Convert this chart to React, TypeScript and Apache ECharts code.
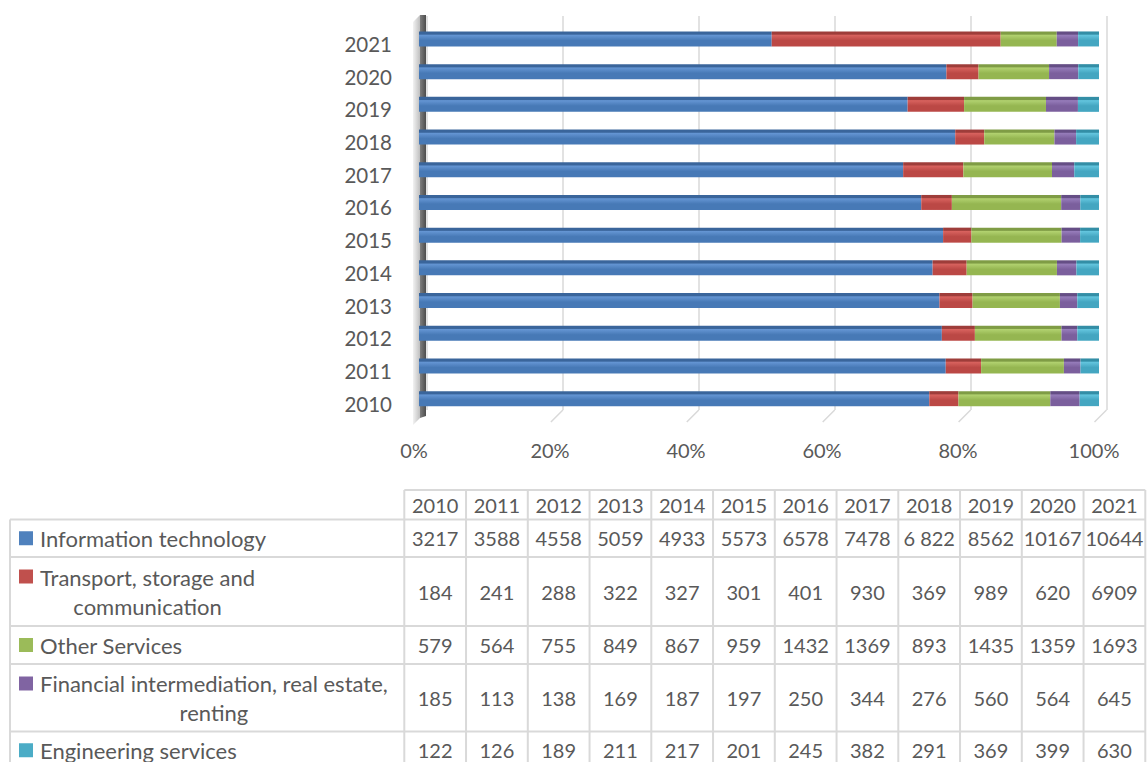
import React, { useEffect, useRef } from "react";
import * as echarts from "echarts";

const years = ["2010", "2011", "2012", "2013", "2014", "2015", "2016", "2017", "2018", "2019", "2020", "2021"];
const infoTech = [3217, 3588, 4558, 5059, 4933, 5573, 6578, 7478, 6822, 8562, 10167, 10644];
const transport = [184, 241, 288, 322, 327, 301, 401, 930, 369, 989, 620, 6909];
const otherServices = [579, 564, 755, 849, 867, 959, 1432, 1369, 893, 1435, 1359, 1693];
const financial = [185, 113, 138, 169, 187, 197, 250, 344, 276, 560, 564, 645];
const engineering = [122, 126, 189, 211, 217, 201, 245, 382, 291, 369, 399, 630];
const seriesNames = [
  "Information technology",
  "Transport, storage and\ncommunication",
  "Other Services",
  "Financial intermediation, real estate,\nrenting",
  "Engineering services",
];
// cell text shown differently from the raw number in the source table
const infoTechDisplay: Record<string, string> = { "2018": "6 822" };
const xTicks = [0, 20, 40, 60, 80, 100];

const FONT = "Lato";
const TEXT = "#595959";
const colors = ["#4F81BD", "#C0504D", "#9BBB59", "#8064A2", "#4BACC6"];
const shades = [
  ["#3A659B", "#6495D3", "#4779B6"],
  ["#9E3D3A", "#D8625E", "#BB4845"],
  ["#7F9C45", "#B1D16F", "#95B651"],
  ["#654E85", "#967CBA", "#7B5F9D"],
  ["#338EA6", "#63C5DE", "#44A6C1"],
];

function measure(text: string, font: string) {
  const ctx = document.createElement("canvas").getContext("2d")!;
  ctx.font = font;
  return ctx.measureText(text).width;
}

export default function App() {
  const ref = useRef<HTMLDivElement>(null);
  useEffect(() => {
    const chart = echarts.init(ref.current!, null, { renderer: "svg" });
    const allSeries = [infoTech, transport, otherServices, financial, engineering];
    const totals = years.map((_, i) => allSeries.reduce((s, arr) => s + arr[i], 0));

    const series = allSeries.map((arr, k) => ({
      name: seriesNames[k].replace("\n", " "),
      type: "bar",
      stack: "total",
      xAxisIndex: 1,
      yAxisIndex: 1,
      barWidth: 15,
      data: arr.map((v, i) => (v / totals[i]) * 100),
      itemStyle: {
        color: new echarts.graphic.LinearGradient(0, 0, 0, 1, [
          { offset: 0, color: shades[k][0] },
          { offset: 0.18, color: shades[k][0] },
          { offset: 0.25, color: shades[k][1] },
          { offset: 0.6, color: shades[k][2] },
          { offset: 1, color: shades[k][2] },
        ]),
      },
    }));

    // ---- table (graphic) ----
    const g: any[] = [];
    const colX0 = 404.3;
    const colW = 61.75;
    const headerTop = 490;
    const rowTops = [519.5, 557, 626, 664, 731.5, 769];
    const tableRight = colX0 + colW * years.length;
    const lineStyle = { stroke: "#D9D9D9", lineWidth: 2 };
    const font20 = `20px ${FONT}`;
    const fontLabel = `22px ${FONT}`;

    g.push({ type: "line", z: 10, shape: { x1: colX0, y1: headerTop, x2: tableRight, y2: headerTop }, style: lineStyle });
    rowTops.forEach((y) =>
      g.push({ type: "line", z: 10, shape: { x1: 10, y1: y, x2: tableRight, y2: y }, style: lineStyle })
    );
    g.push({ type: "line", z: 10, shape: { x1: 10, y1: rowTops[0], x2: 10, y2: 769 }, style: lineStyle });
    for (let k = 0; k <= years.length; k++) {
      const x = colX0 + k * colW;
      g.push({ type: "line", z: 10, shape: { x1: x, y1: headerTop, x2: x, y2: 769 }, style: lineStyle });
    }
    years.forEach((yr, k) => {
      g.push({
        type: "text",
        z: 11,
        style: {
          text: yr,
          x: colX0 + (k + 0.5) * colW,
          y: (headerTop + rowTops[0]) / 2,
          align: "center",
          verticalAlign: "middle",
          fill: TEXT,
          font: font20,
        },
      });
    });
    allSeries.forEach((arr, r) => {
      const top = rowTops[r];
      const bottom = rowTops[r + 1];
      const cy = (top + bottom) / 2;
      const label = seriesNames[r];
      const multi = label.includes("\n");
      const firstLineCy = multi ? top + 19.5 : cy;
      g.push({
        type: "rect",
        z: 11,
        shape: { x: 19, y: firstLineCy - 7, width: 14, height: 14 },
        style: { fill: colors[r] },
      });
      if (multi) {
        const w = Math.max(...label.split("\n").map((l) => measure(l, fontLabel)));
        g.push({
          type: "text",
          z: 11,
          style: {
            text: label,
            x: 40 + w / 2,
            y: cy,
            align: "center",
            verticalAlign: "middle",
            lineHeight: 29,
            fill: TEXT,
            font: fontLabel,
          },
        });
      } else {
        g.push({
          type: "text",
          z: 11,
          style: { text: label, x: 40, y: cy, align: "left", verticalAlign: "middle", fill: TEXT, font: fontLabel },
        });
      }
      arr.forEach((v, k) => {
        const txt = r === 0 && infoTechDisplay[years[k]] ? infoTechDisplay[years[k]] : String(v);
        g.push({
          type: "text",
          z: 11,
          style: {
            text: txt,
            x: colX0 + (k + 0.5) * colW,
            y: cy,
            align: "center",
            verticalAlign: "middle",
            fill: TEXT,
            font: font20,
          },
        });
      });
    });

    // 3D side wall on the left
    g.push({
      type: "polygon",
      z: 1,
      shape: { points: [[413, 22], [420, 15], [420, 418], [413, 425]] },
      style: {
        fill: new echarts.graphic.LinearGradient(0, 0, 1, 0, [
          { offset: 0, color: "#F2F2F2" },
          { offset: 1, color: "#BFBFBF" },
        ]),
      },
    });
    g.push({
      type: "polygon",
      z: 1,
      shape: { points: [[420, 15], [426, 15], [426, 416], [420, 418]] },
      style: {
        fill: new echarts.graphic.LinearGradient(0, 0, 1, 0, [
          { offset: 0, color: "#7F7F7F" },
          { offset: 1, color: "#4D4D4D" },
        ]),
      },
    });
    // back-wall floor edges of the gridlines
    xTicks.slice(1).forEach((t) => {
      const x = 427 + (t / 100) * 679.5;
      g.push({
        type: "line",
        z: 1,
        shape: { x1: x, y1: 410, x2: x - 12, y2: 422 },
        style: { stroke: "#D9D9D9", lineWidth: 1.5 },
      });
    });

    const option: any = {
      animation: false,
      textStyle: { fontFamily: FONT },
      grid: [
        { left: 427, width: 679.5, top: 16, height: 394 },
        { left: 419, width: 680, top: 22.6, height: 392.4 },
        { left: 414, width: 680, top: 27.6, height: 392.4 },
      ],
      xAxis: [
        {
          gridIndex: 0,
          type: "value",
          min: 0,
          max: 100,
          interval: 20,
          axisLine: { show: false },
          axisTick: { show: false },
          axisLabel: { show: false },
          splitLine: { show: true, lineStyle: { color: "#D9D9D9", width: 1.5 } },
        },
        { gridIndex: 1, type: "value", min: 0, max: 100, interval: 20, show: false },
        {
          gridIndex: 2,
          type: "value",
          min: 0,
          max: 100,
          interval: 20,
          axisLine: { show: false },
          axisTick: { show: false },
          splitLine: { show: false },
          axisLabel: {
            margin: 20,
            color: TEXT,
            fontSize: 20,
            fontFamily: FONT,
            formatter: (v: number) => (xTicks.includes(v) ? `${v}%` : ""),
          },
        },
      ],
      yAxis: [
        { gridIndex: 0, type: "category", data: years, show: false },
        { gridIndex: 1, type: "category", data: years, show: false },
        {
          gridIndex: 2,
          type: "category",
          data: years,
          axisLine: { show: false },
          axisTick: { show: false },
          axisLabel: { margin: 22, color: TEXT, fontSize: 20.5, fontFamily: FONT },
        },
      ],
      series,
      graphic: { elements: g },
    };
    chart.setOption(option);
    return () => chart.dispose();
  }, []);
  return (
    <div
      ref={ref}
      style={{ position: "fixed", left: 0, top: 0, width: 1148, height: 762, background: "#fff" }}
    />
  );
}
